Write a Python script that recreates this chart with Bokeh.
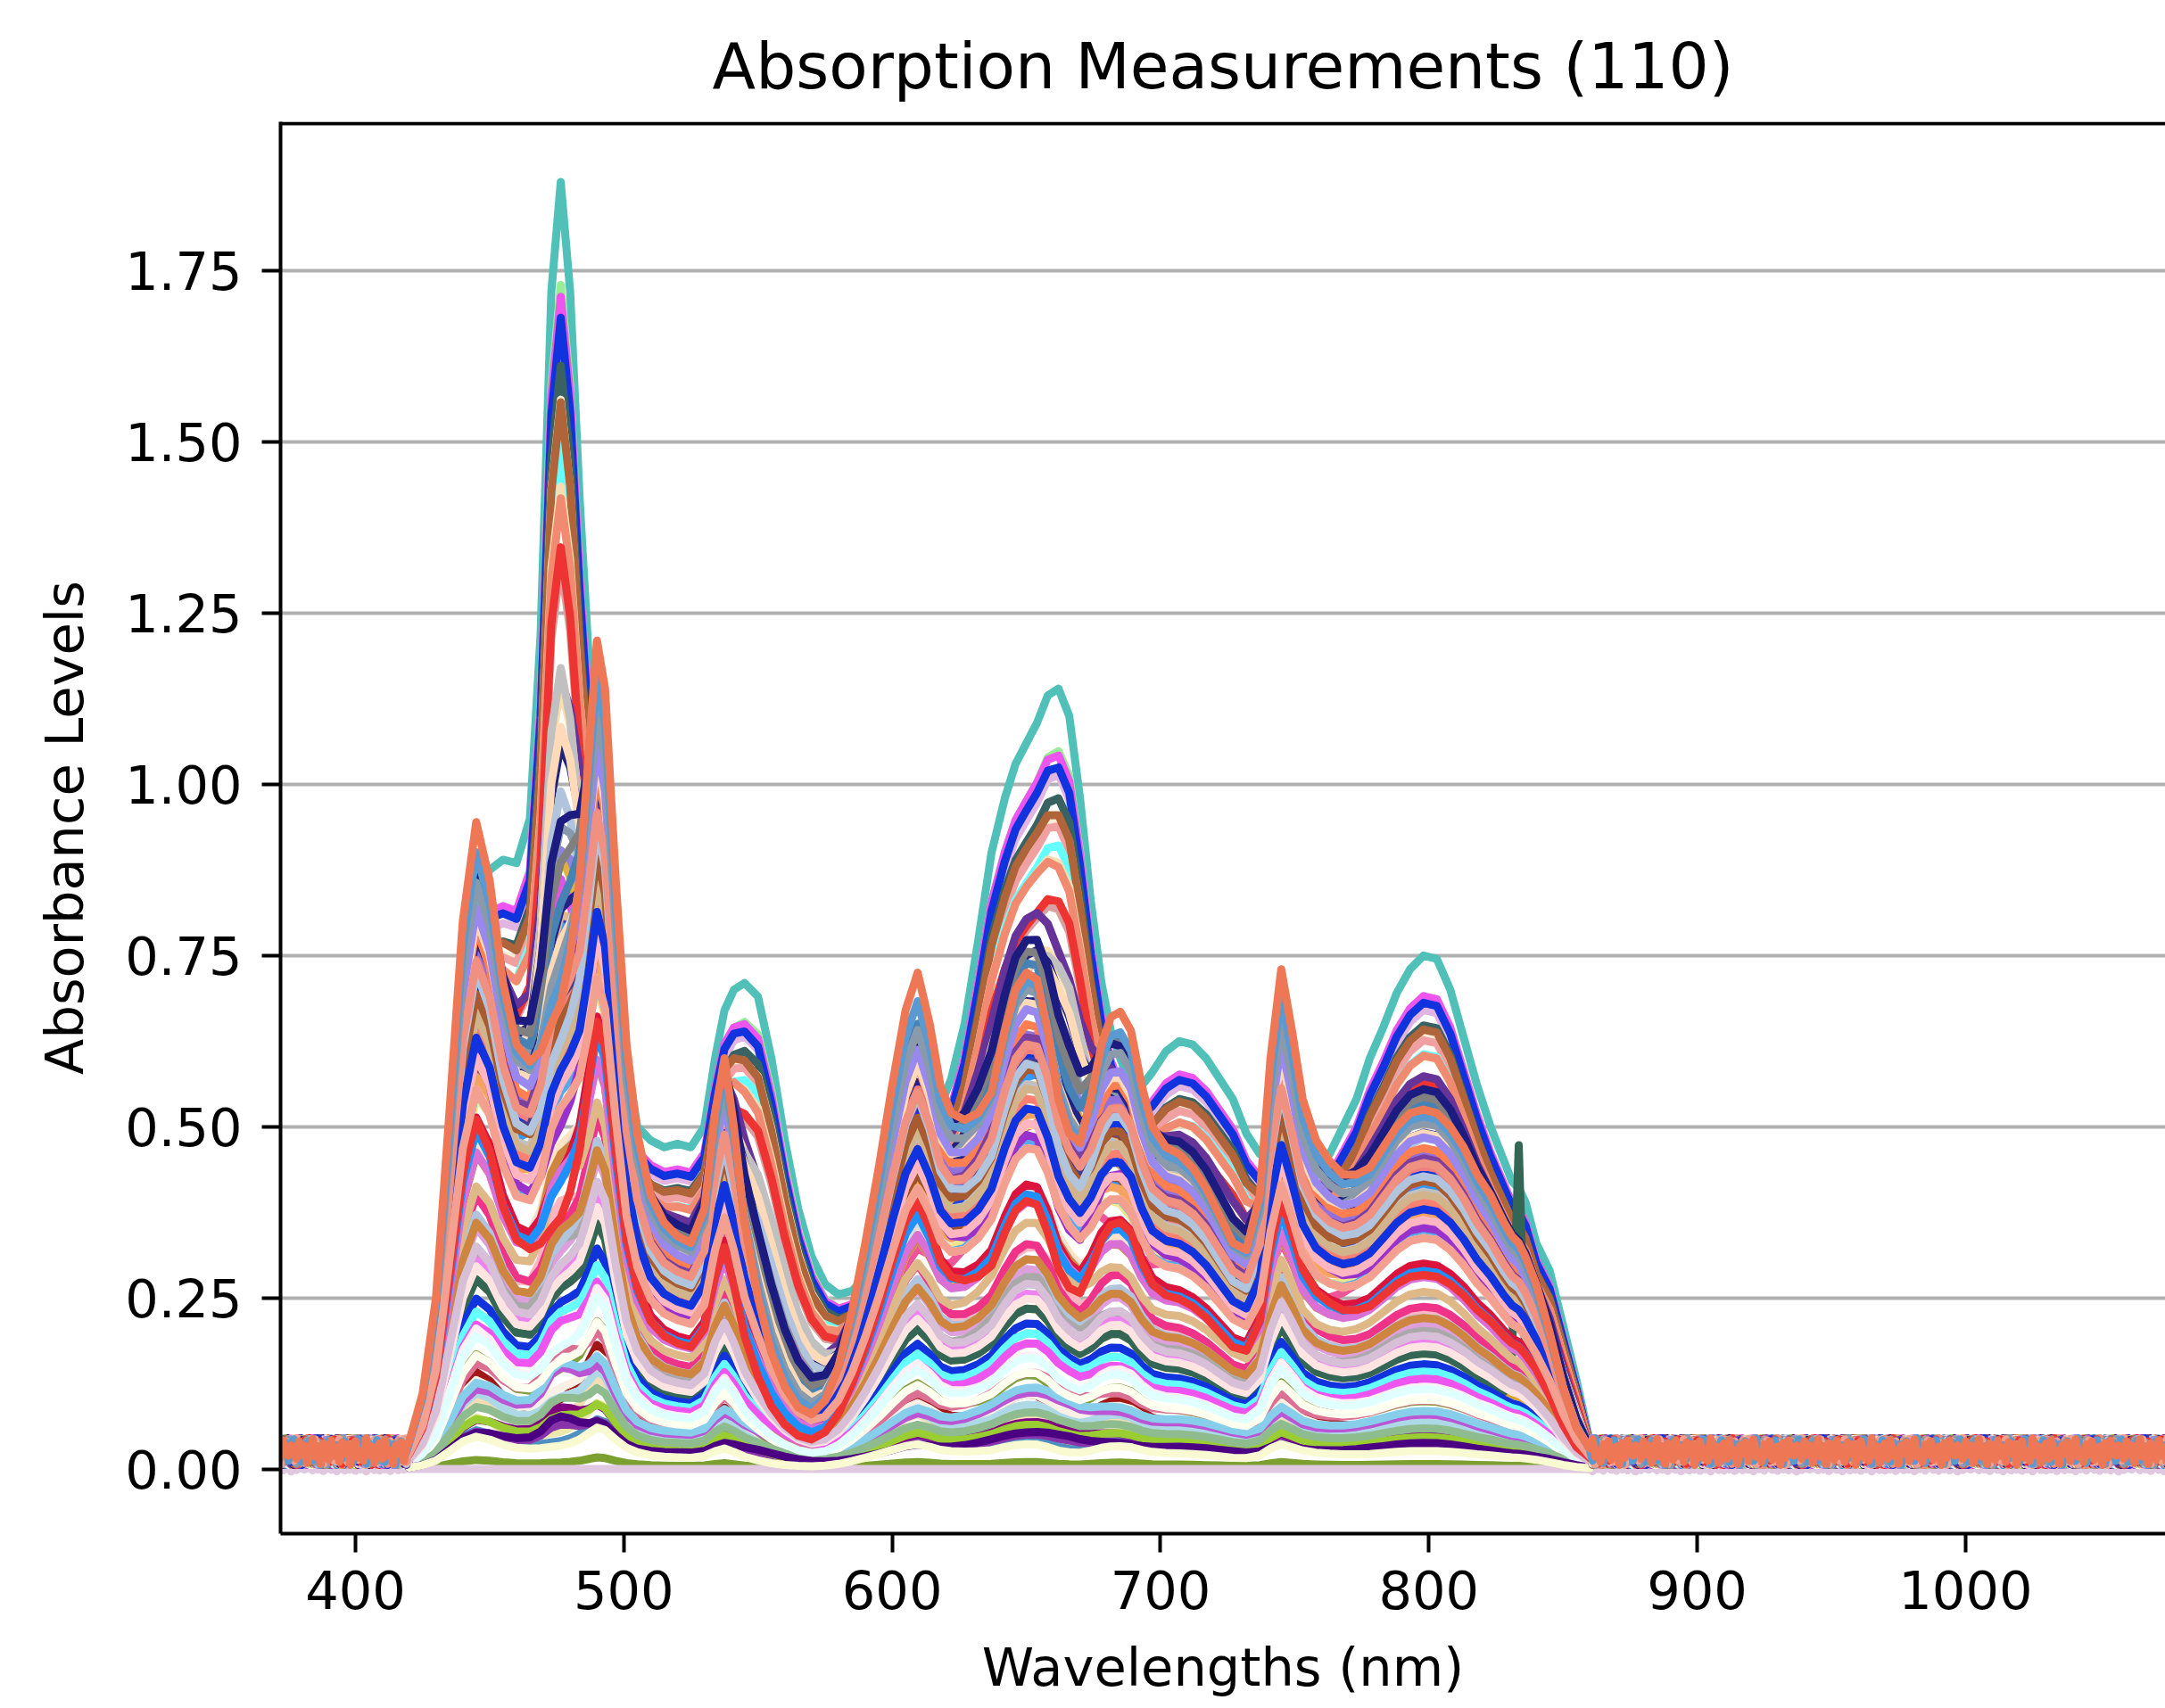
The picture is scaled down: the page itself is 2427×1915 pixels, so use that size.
import numpy as np
from bokeh.plotting import figure
from bokeh.models import Range1d, FixedTicker, NumeralTickFormatter, Span, ColumnDataSource
from bokeh.embed import file_html
from bokeh.resources import INLINE

# ---------------- data ----------------
TITLE = "Absorption Measurements (110)"
X_LABEL = "Wavelengths (nm)"
Y_LABEL = "Absorbance Levels"
X_TICKS = [400, 500, 600, 700, 800, 900, 1000, 1100]
Y_TICKS = [0.0, 0.25, 0.5, 0.75, 1.0, 1.25, 1.5, 1.75]

# wavelengths of the absorbing region (nm)
WL_CORE = [420, 425, 430, 435, 440, 445, 450, 455, 460, 465,
           469, 473, 476.5, 480, 483.5, 487, 490, 493, 497, 501,
           505, 510, 515, 520, 525, 530, 534, 537.5, 541, 545,
           550, 555, 560, 565, 570, 575, 580, 585, 590, 595,
           600, 605, 609.5, 614, 618, 622, 627, 632, 637, 642,
           646, 650, 654, 658, 662, 666, 670, 674, 678, 681.5,
           685, 689, 693, 697, 702, 707, 712, 717, 722, 727,
           732, 737, 741, 745, 749, 753, 758, 763, 768, 773,
           778, 783, 788, 793, 798, 803, 808, 813, 818, 823,
           828, 831, 833.5, 836, 840, 845, 850, 855, 860]

# spectrum of the highest (teal) measurement
PROFILE_A = [0.03, 0.08, 0.2, 0.45, 0.68, 0.82, 0.875, 0.89, 0.885, 0.95,
             1.22, 1.72, 1.88, 1.72, 1.42, 1.18, 1.12, 1.02, 0.8, 0.6,
             0.5, 0.48, 0.47, 0.475, 0.47, 0.5, 0.6, 0.67, 0.7, 0.71,
             0.69, 0.6, 0.48, 0.38, 0.31, 0.27, 0.255, 0.26, 0.28, 0.32,
             0.37, 0.43, 0.47, 0.5, 0.53, 0.57, 0.65, 0.77, 0.9, 0.98,
             1.03, 1.06, 1.09, 1.13, 1.14, 1.1, 0.98, 0.83, 0.71, 0.64,
             0.6, 0.56, 0.56, 0.58, 0.61, 0.625, 0.62, 0.6, 0.57, 0.54,
             0.49, 0.46, 0.47, 0.5, 0.47, 0.44, 0.44, 0.46, 0.5, 0.54,
             0.6, 0.645, 0.695, 0.73, 0.75, 0.745, 0.7, 0.63, 0.56, 0.5,
             0.45, 0.42, 0.41, 0.39, 0.33, 0.29, 0.21, 0.13, 0.04]

# spectrum of the last drawn (coral) measurement
PROFILE_B = [0.04, 0.11, 0.25, 0.52, 0.8, 0.945, 0.86, 0.71, 0.62, 0.595,
             0.61, 0.65, 0.68, 0.75, 0.86, 1.05, 1.21, 1.14, 0.86, 0.62,
             0.49, 0.4, 0.36, 0.34, 0.33, 0.38, 0.52, 0.6, 0.5, 0.36,
             0.25, 0.17, 0.12, 0.09, 0.08, 0.1, 0.15, 0.23, 0.33, 0.44,
             0.56, 0.67, 0.725, 0.65, 0.56, 0.52, 0.51, 0.52, 0.55, 0.64,
             0.7, 0.725, 0.715, 0.64, 0.54, 0.49, 0.476, 0.54, 0.62, 0.66,
             0.668, 0.64, 0.56, 0.5, 0.47, 0.46, 0.44, 0.41, 0.37, 0.33,
             0.32, 0.4, 0.6, 0.73, 0.64, 0.54, 0.48, 0.45, 0.43, 0.43,
             0.44, 0.47, 0.5, 0.52, 0.525, 0.52, 0.5, 0.47, 0.43, 0.4,
             0.36, 0.34, 0.33, 0.31, 0.27, 0.2, 0.12, 0.06, 0.03]

# baseline noise outside the absorbing region
NOISE = [0.004, -0.006, 0.011, -0.002, 0.007, -0.010, 0.002, 0.013, -0.004, 0.006,
         -0.011, 0.009, 0.000, -0.007, 0.012, -0.003, 0.005, -0.009, 0.010, -0.001,
         0.008, -0.012, 0.003, 0.011, -0.005, 0.001, -0.008, 0.014, -0.002, 0.006,
         -0.010, 0.004, 0.009, -0.006, 0.012, -0.003, 0.002, -0.011, 0.007, -0.001,
         0.010, -0.008, 0.005, 0.013, -0.004, 0.000, -0.009, 0.008, -0.002, 0.011,
         -0.007, 0.003, 0.006, -0.012, 0.009, -0.005, 0.012, 0.001, -0.003, 0.007]
BASE_LEVEL = 0.024
BASE_OVERRIDE = {31: 0.0}
NOISE_GAIN = 1.5
GAIN_OVERRIDE = {31: 0.3}

# one measurement has a narrow spike near 834 nm
SPIKE_SERIES = 44
SPIKE_WL = [831, 833.5, 836]
SPIKE_ADD = [0.06, 0.37, 0.05]

SERIES_COLORS = [
    "#50C0B8", "#98EE98", "#E2B4E2", "#EE55EE", "#1133DD", "#3A6262", "#FAEBD7", "#F0A0A0", "#66FFFF", "#B0643A",
    "#F5DEB3", "#F08A70", "#D8A0A0", "#EE3333", "#663399", "#FFDEAD", "#C0C0C0", "#222277", "#FFDAB9", "#B0C4DE",
    "#E0B040", "#9080E0", "#8899AA", "#E055E0", "#3399FF", "#F08080", "#EE5599", "#F0E68C", "#2244DD", "#E0B890",
    "#7BA030", "#E0C8E0", "#A01818", "#EEE8AA", "#FFF0D0", "#FAF0E6", "#5090C0", "#A0F0A0", "#F5DEB3", "#8833AA",
    "#DAA520", "#50C0B8", "#DDA0DD", "#FFF5EE", "#336655", "#FFB6C1", "#1133DD", "#66FFFF", "#EE55EE", "#A9A9A9",
    "#A0522D", "#F0F0FF", "#FA8072", "#55AAEE", "#EE3388", "#FFE4C4", "#9370DB", "#222288", "#778899", "#F4A08A",
    "#A0522D", "#1133DD", "#F4A460", "#B0C4DE", "#FFE4B5", "#DCDCDC", "#EE82EE", "#CD853F", "#FFF0F5", "#80A040",
    "#800080", "#DB7093", "#ADD8E6", "#BA55D3", "#DEB887", "#FF7F50", "#9932CC", "#4682B4", "#87CEEB", "#9ACD32",
    "#FFFFF0", "#8FBC8F", "#DC143C", "#C0C0C0", "#E0FFFF", "#FFE4E1", "#4B0082", "#FAFAD2", "#CD853F", "#DA70D6",
    "#1E90FF", "#F08080", "#483D8B", "#D8BFD8", "#FFB6C1", "#808080", "#7B3FA0", "#D2B48C", "#1C1C80", "#A85A30",
    "#FFDAB9", "#9988EE", "#B0C4DE", "#1133DD", "#F09080", "#EE3333", "#8A9AAA", "#F4A090", "#5A9AD0", "#EE7755",
]
AMP_A = [
    1.00, 0.92, 0.88, 0.90, 0.88, 0.85, 0.82, 0.80, 0.78, 0.80,
    0.72, 0.70, 0.66, 0.68, 0.45, 0.50, 0.55, 0.40, 0.45, 0.40,
    0.35, 0.30, 0.30, 0.35, 0.30, 0.25, 0.30, 0.20, 0.28, 0.25,
    0.00, 0.00, 0.00, 0.00, 0.02, 0.02, 0.00, 0.05, 0.00, 0.02,
    0.05, 0.05, 0.05, 0.05, 0.05, 0.10, 0.05, 0.05, 0.05, 0.08,
    0.15, 0.10, 0.10, 0.12, 0.05, 0.10, 0.12, 0.20, 0.15, 0.10,
    0.20, 0.15, 0.18, 0.05, 0.10, 0.08, 0.05, 0.10, 0.02, 0.02,
    0.03, 0.05, 0.02, 0.05, 0.10, 0.10, 0.05, 0.15, 0.05, 0.02,
    0.03, 0.03, 0.05, 0.12, 0.03, 0.05, 0.03, 0.00, 0.07, 0.08,
    0.05, 0.10, 0.15, 0.05, 0.10, 0.20, 0.15, 0.10, 0.25, 0.12,
    0.15, 0.10, 0.08, 0.10, 0.12, 0.00, 0.10, 0.10, 0.05, 0.00,
]
AMP_B = [
    0.00, 0.00, 0.02, 0.03, 0.04, 0.02, 0.03, 0.05, 0.04, 0.08,
    0.12, 0.15, 0.12, 0.10, 0.45, 0.30, 0.20, 0.45, 0.35, 0.35,
    0.35, 0.50, 0.55, 0.30, 0.35, 0.45, 0.25, 0.40, 0.42, 0.50,
    0.014, 0.00, 0.15, 0.08, 0.10, 0.12, 0.06, 0.20, 0.11, 0.04,
    0.25, 0.30, 0.33, 0.22, 0.25, 0.30, 0.22, 0.20, 0.18, 0.27,
    0.50, 0.40, 0.60, 0.48, 0.38, 0.42, 0.70, 0.65, 0.72, 0.55,
    0.55, 0.62, 0.45, 0.35, 0.50, 0.45, 0.28, 0.40, 0.20, 0.16,
    0.05, 0.12, 0.10, 0.08, 0.35, 0.75, 0.60, 0.80, 0.09, 0.06,
    0.15, 0.07, 0.50, 0.60, 0.18, 0.27, 0.03, 0.05, 0.32, 0.42,
    0.48, 0.70, 0.60, 0.30, 0.55, 0.75, 0.65, 0.62, 0.70, 0.63,
    0.72, 0.78, 0.70, 0.58, 0.68, 0.54, 0.82, 0.50, 0.91, 1.00,
]

# ---------------- build the curves ----------------
WL_HEAD = list(range(370, 420, 1))
WL_TAIL = list(range(861, 1080, 1))
prof_a = np.array(PROFILE_A)
prof_b = np.array(PROFILE_B)
n_noise = len(NOISE)
x_all = WL_HEAD + WL_CORE + WL_TAIL

xs, ys = [], []
for i in range(len(SERIES_COLORS)):
    base = BASE_OVERRIDE.get(i, BASE_LEVEL)
    gain = GAIN_OVERRIDE.get(i, NOISE_GAIN)
    off = (i * 17) % n_noise
    head = [base + gain * NOISE[(k + off) % n_noise] for k in range(len(WL_HEAD))]
    core = AMP_A[i] * prof_a + AMP_B[i] * prof_b
    if i == SPIKE_SERIES:
        for w, add in zip(SPIKE_WL, SPIKE_ADD):
            core[WL_CORE.index(w)] += add
    tail = [base + gain * NOISE[(k + len(WL_HEAD) + off) % n_noise] for k in range(len(WL_TAIL))]
    xs.append(x_all)
    ys.append(head + list(core) + tail)

source = ColumnDataSource(dict(xs=xs, ys=ys, color=SERIES_COLORS))

# ---------------- figure ----------------
FONT = "DejaVu Sans"
p = figure(width=2427, height=1915, output_backend="svg", toolbar_location=None,
           x_range=Range1d(372.08, 1074.5), y_range=Range1d(-0.0944, 1.968),
           min_border_left=314, min_border_right=0, min_border_top=136, min_border_bottom=196,
           title=TITLE)
p.background_fill_color = "white"
p.border_fill_color = "white"
p.outline_line_color = None

p.title.text_font = FONT
p.title.text_font_size = "71px"
p.title.text_font_style = "normal"
p.title.align = "center"
p.title.text_color = "black"
p.title.standoff = 42

p.multi_line(xs="xs", ys="ys", line_color="color", line_width=9, line_join="round", source=source)

p.xgrid.visible = False
p.ygrid.grid_line_color = "#b0b0b0"
p.ygrid.grid_line_width = 4

p.xaxis.ticker = FixedTicker(ticks=X_TICKS)
p.yaxis.ticker = FixedTicker(ticks=Y_TICKS)
p.yaxis.formatter = NumeralTickFormatter(format="0.00")

for ax in (p.xaxis[0], p.yaxis[0]):
    ax.axis_line_color = "black"
    ax.axis_line_width = 4
    ax.major_tick_line_color = "black"
    ax.major_tick_line_width = 4
    ax.major_tick_out = 21
    ax.major_tick_in = 0
    ax.minor_tick_line_color = None
    ax.major_label_text_font = FONT
    ax.major_label_text_font_size = "59px"
    ax.major_label_text_color = "black"
    ax.axis_label_text_font = FONT
    ax.axis_label_text_font_size = "59px"
    ax.axis_label_text_font_style = "normal"
    ax.axis_label_text_color = "black"

p.xaxis.axis_label = X_LABEL
p.yaxis.axis_label = Y_LABEL
p.xaxis.major_label_standoff = 20
p.yaxis.major_label_standoff = 22
p.xaxis.axis_label_standoff = 28
p.yaxis.axis_label_standoff = 30

top_border = Span(location=1.968 - 0.0027, dimension="width", line_color="black", line_width=4)
p.add_layout(top_border)

open("out.html", "w").write(file_html(p, INLINE))
